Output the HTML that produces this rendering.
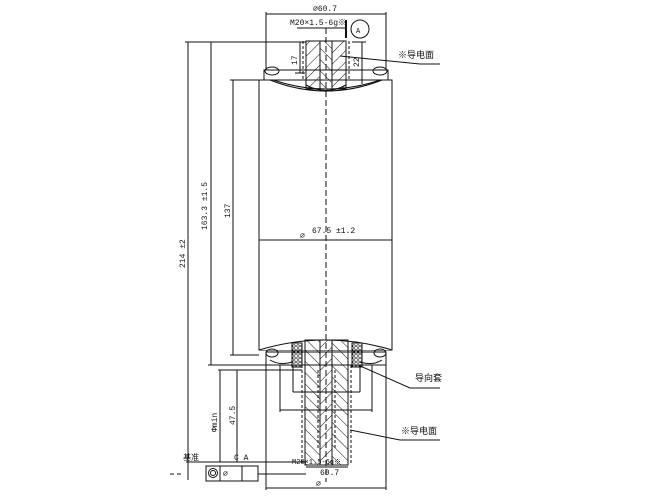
<!DOCTYPE html>
<html><head><meta charset="utf-8"><style>
html,body{margin:0;padding:0;background:#fff;}
svg{display:block;}
text{font-family:"Liberation Mono","Noto Sans CJK SC",monospace;fill:#111;}
</style></head><body>
<svg width="650" height="496" viewBox="0 0 650 496" xmlns="http://www.w3.org/2000/svg">
<defs>
<pattern id="h1" patternUnits="userSpaceOnUse" width="8" height="8" patternTransform="rotate(45)"><line x1="0" y1="0" x2="0" y2="8" stroke="#111" stroke-width="1"/></pattern>
<pattern id="h2" patternUnits="userSpaceOnUse" width="8" height="8" patternTransform="rotate(-45)"><line x1="0" y1="0" x2="0" y2="8" stroke="#111" stroke-width="1"/></pattern>
<pattern id="dots" patternUnits="userSpaceOnUse" width="4" height="4"><circle cx="2" cy="2" r="1.3" fill="none" stroke="#111" stroke-width="0.7"/></pattern>
</defs>
<g stroke="#111" stroke-width="1" fill="none">
<path d="M259 80 L392 80 L392 350 L259 350 Z" fill="#fff"/>
<path d="M268 78 Q326 100 386 78" />
<path d="M264 70 L388 70 L388 80 L264 80 Z" fill="#fff"/>
<path d="M270 80 Q326 102 382 80" stroke-width="1.2"/>
<ellipse cx="272" cy="71" rx="7" ry="4"/><ellipse cx="380" cy="71" rx="7" ry="4"/>
<rect x="306" y="41" width="14" height="48" fill="url(#h1)"/>
<rect x="320" y="41" width="12" height="50" fill="url(#h2)"/>
<rect x="332" y="41" width="14" height="48" fill="url(#h1)"/>
<path d="M306 41 L346 41 M306 41 L306 85 M346 41 L346 85"/>
<path d="M306 85 Q326 96 346 85" />
<line x1="303" y1="41" x2="303" y2="80" stroke-dasharray="3,2"/>
<line x1="349" y1="41" x2="349" y2="80" stroke-dasharray="3,2"/>
<path d="M259 350 Q326 330 392 350" fill="#fff"/>
<path d="M266 352 L386 352 L386 365 L266 365 Z" fill="#fff"/>
<ellipse cx="272" cy="353" rx="6" ry="4"/><ellipse cx="380" cy="353" rx="6" ry="4"/>
<path d="M270 360 Q280 366 292 362 M360 362 Q372 366 382 360"/>
<rect x="292" y="343" width="10" height="24" fill="url(#dots)"/>
<rect x="352" y="343" width="10" height="24" fill="url(#dots)"/>
<rect x="305" y="340" width="15" height="125" fill="url(#h2)"/>
<rect x="320" y="340" width="12" height="125" fill="url(#h1)"/>
<rect x="332" y="340" width="16" height="125" fill="url(#h2)"/>
<path d="M305 340 L305 465 L348 465 L348 340"/>
<line x1="302" y1="365" x2="302" y2="465" stroke-dasharray="3,2"/>
<line x1="351" y1="365" x2="351" y2="465" stroke-dasharray="3,2"/>
<line x1="318" y1="370" x2="318" y2="450" stroke-dasharray="3,2"/>
<line x1="335" y1="370" x2="335" y2="450" stroke-dasharray="3,2"/>
<line x1="326" y1="28" x2="326" y2="482" stroke-dasharray="6,3"/>
<line x1="266" y1="14" x2="386" y2="14"/>
<line x1="266" y1="12" x2="266" y2="70"/><line x1="386" y1="12" x2="386" y2="70"/>
<line x1="297" y1="28" x2="346" y2="28"/>
<line x1="346" y1="20" x2="346" y2="38" stroke-width="2"/>
<circle cx="360" cy="29" r="9" fill="#fff"/>
<line x1="300" y1="42" x2="300" y2="73"/>
<line x1="295" y1="42" x2="305" y2="42"/><line x1="295" y1="73" x2="305" y2="73"/>
<line x1="362" y1="42" x2="362" y2="84"/>
<line x1="352" y1="42" x2="366" y2="42"/>
<line x1="188" y1="42" x2="188" y2="480"/>
<line x1="185" y1="42" x2="306" y2="42"/>
<line x1="211" y1="42" x2="211" y2="365"/>
<line x1="233" y1="80" x2="233" y2="355"/>
<line x1="230" y1="80" x2="259" y2="80"/>
<line x1="230" y1="355" x2="259" y2="355"/>
<line x1="208" y1="365" x2="266" y2="365"/>
<line x1="259" y1="240" x2="392" y2="240"/>
<line x1="220" y1="370" x2="220" y2="462"/>
<line x1="237" y1="370" x2="237" y2="462"/>
<line x1="218" y1="370" x2="302" y2="370"/>
<line x1="293" y1="365" x2="293" y2="392"/>
<line x1="360" y1="365" x2="360" y2="392"/>
<line x1="293" y1="392" x2="360" y2="392"/>
<line x1="280" y1="365" x2="280" y2="412"/>
<line x1="372" y1="365" x2="372" y2="412"/>
<line x1="280" y1="410" x2="372" y2="410"/>
<line x1="186" y1="462" x2="306" y2="462"/>
<line x1="306" y1="467" x2="348" y2="467"/>
<line x1="266" y1="365" x2="266" y2="490"/>
<line x1="386" y1="365" x2="386" y2="490"/>
<line x1="266" y1="488" x2="386" y2="488"/>
<line x1="170" y1="474" x2="184" y2="474" stroke-dasharray="4,3"/>
<rect x="206" y="466" width="52" height="15" fill="#fff"/>
<line x1="220" y1="466" x2="220" y2="481"/><line x1="242" y1="466" x2="242" y2="481"/>
<circle cx="213" cy="473" r="4.5"/><circle cx="213" cy="473" r="2.5"/>
<line x1="258" y1="474" x2="306" y2="474"/>
<path d="M340 56 L420 64 L440 64"/>
<path d="M358 365 L410 388 L440 388"/>
<path d="M350 430 L400 440 L440 440"/>
</g>
<g font-size="8">
<text x="313" y="11">⌀60.7</text>
<text x="290" y="25">M20×1.5-6g※</text>
<text x="356" y="33" font-size="7">A</text>
<text x="398" y="58" font-size="9">※导电面</text>
<text x="415" y="381" font-size="9">导向套</text>
<text x="401" y="434" font-size="9">※导电面</text>
<text x="300" y="238">⌀</text>
<text x="312" y="233">67.5 ±1.2</text>
<text x="183" y="460" font-size="8">基准</text>
<text x="234" y="460">C A</text>
<text x="292" y="464" font-size="7">M20×1.5-6g※</text>
<text x="320" y="475">60.7</text>
<text x="316" y="486">⌀</text>
<text x="223" y="476">⌀</text>
<text transform="translate(185,268) rotate(-90)">214 ±2</text>
<text transform="translate(207,230) rotate(-90)">163.3 ±1.5</text>
<text transform="translate(230,218) rotate(-90)">137</text>
<text transform="translate(217,432) rotate(-90)">Φmin</text>
<text transform="translate(235,425) rotate(-90)">47.5</text>
<text transform="translate(297,65) rotate(-90)">17</text>
<text transform="translate(359,67) rotate(-90)">22</text>
</g>
</svg>
</body></html>
